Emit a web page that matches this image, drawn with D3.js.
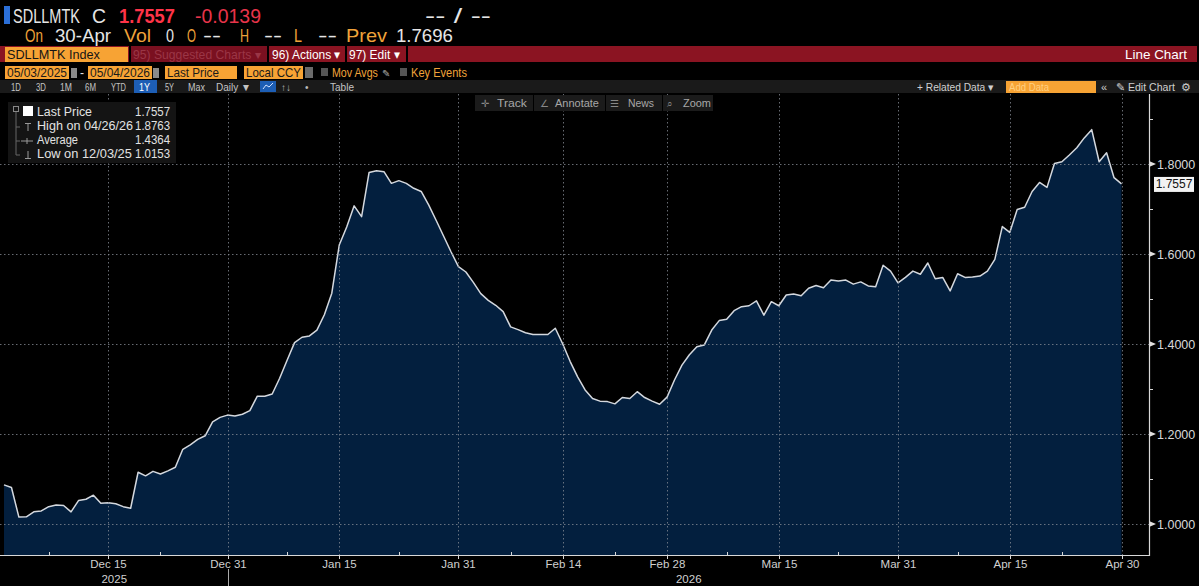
<!DOCTYPE html>
<html><head><meta charset="utf-8">
<script src="https://cdn.jsdelivr.net/npm/d3@7"></script>
<style>html,body{margin:0;padding:0;background:#000;overflow:hidden}</style>
</head><body>
<svg id="c" width="1199" height="586"></svg>
<script>
// ---------------- DATA ----------------
const startDate = "2025-12-01";   // daily observations
const values = [
 1.087,1.081,1.0153,1.016,1.027,1.029,1.0385,1.042,1.041,1.027,
 1.052,1.055,1.064,1.046,1.047,1.045,1.0385,1.035,1.115,1.107,
 1.117,1.111,1.118,1.126,1.166,1.176,1.188,1.196,1.227,1.237,
 1.242,1.240,1.244,1.252,1.284,1.284,1.289,1.324,1.364,1.403,
 1.415,1.418,1.431,1.465,1.513,1.620,1.660,1.707,1.683,1.781,
 1.785,1.783,1.757,1.763,1.757,1.746,1.739,1.709,1.675,1.640,
 1.605,1.572,1.560,1.537,1.512,1.497,1.486,1.472,1.438,1.432,
 1.425,1.421,1.421,1.421,1.435,1.400,1.361,1.327,1.298,1.279,
 1.273,1.272,1.267,1.281,1.279,1.294,1.281,1.273,1.266,1.282,
 1.320,1.353,1.376,1.394,1.398,1.431,1.452,1.455,1.474,1.483,
 1.485,1.496,1.464,1.494,1.485,1.509,1.511,1.507,1.524,1.530,
 1.525,1.542,1.540,1.542,1.533,1.538,1.529,1.527,1.575,1.562,
 1.536,1.548,1.562,1.555,1.580,1.545,1.548,1.518,1.556,1.548,
 1.549,1.551,1.562,1.588,1.661,1.648,1.699,1.704,1.739,1.759,
 1.748,1.801,1.805,1.820,1.836,1.858,1.8763,1.805,1.825,1.7696,
 1.7557
];
const xTickDates = ["2025-12-15","2025-12-31","2026-01-15","2026-01-31","2026-02-14",
                    "2026-02-28","2026-03-15","2026-03-31","2026-04-15","2026-04-30"];
const xMinorDates = ["2025-12-07","2025-12-22","2026-01-08","2026-01-23","2026-02-07",
                     "2026-02-21","2026-03-08","2026-03-23","2026-04-08","2026-04-22"];
const yearLabels = ["2025","2026"];
const yearBreak = "2025-12-31";
const yTicks = [1.0,1.2,1.4,1.6,1.8];
const yMinor = [1.1,1.3,1.5,1.7,1.9];
const legendLabels = ["Last Price","High on 04/26/26","Average","Low on 12/03/25"];
const legendValues = ["1.7557","1.8763","1.4364","1.0153"];
const lastPrice = 1.7557;

// ---------------- HELPERS ----------------
const svg = d3.select("#c");
const FF = "'Liberation Sans', Arial, sans-serif";
// text; if o.w is given the glyphs are horizontally scaled to that width
function T(sel, x, y, s, o = {}) {
  const t = sel.append("text").text(s)
    .attr("font-family", o.ff || FF).attr("font-size", o.fs || 12)
    .attr("fill", o.fill || "#ddd");
  if (o.anchor) t.attr("text-anchor", o.anchor);
  if (o.fw) t.attr("font-weight", o.fw);
  if (o.w) {
    const len = t.node().getComputedTextLength() || o.w;
    t.attr("x", 0).attr("y", 0).attr("transform", `translate(${x},${y}) scale(${o.w / len},1)`);
  } else {
    t.attr("x", x).attr("y", y);
  }
  return t;
}
function R(sel, x, y, w, h, fill) {
  return sel.append("rect").attr("x", x).attr("y", y).attr("width", w).attr("height", h).attr("fill", fill);
}
const ORANGE = "#f0a33a", BOXOR = "#f7a334", WHITE = "#e6e6e6";

svg.append("rect").attr("width", 1199).attr("height", 586).attr("fill", "#000");

// ---------------- HEADER ----------------
const hd = svg.append("g");
R(hd, 4, 6, 6, 18, "#2b6fd8");
T(hd, 13, 23, "SDLLMTK", {fs: 20, w: 67, fill: WHITE});
T(hd, 92, 23, "C", {fs: 20, w: 14, fill: WHITE});
T(hd, 119, 23, "1.7557", {fs: 20, w: 56, fill: "#ff3448", fw: "bold"});
T(hd, 195, 23, "-0.0139", {fs: 20, w: 66, fill: "#e8344a"});
T(hd, 425, 23, "-- / --", {fs: 20, w: 66, fill: WHITE});

const r2 = [["On",25,18,ORANGE],["30-Apr",55,56,WHITE],["Vol",124,27,ORANGE],["0",166,8,WHITE],
  ["O",187,9,ORANGE],["--",203,18,WHITE],["H",240,9,ORANGE],["--",264,18,WHITE],["L",294,8,ORANGE],
  ["--",318,19,WHITE],["Prev",346,41,ORANGE],["1.7696",396,57,WHITE]];
r2.forEach(d => T(hd, d[1], 42, d[0], {fs: 18, w: d[2], fill: d[3]}));

// red bar
R(hd, 0, 46, 1197, 16, "#8b1422");
R(hd, 130, 46, 137, 16, "#7a1020");
R(hd, 5, 47, 123, 15, BOXOR);
T(hd, 7, 59, "SDLLMTK Index", {fs: 13, w: 93, fill: "#151515"});
T(hd, 133, 59, "95) Suggested Charts ▾", {fs: 12, w: 128, fill: "#9a3646"});
T(hd, 272, 59, "96) Actions ▾", {fs: 13, w: 69, fill: "#fff"});
T(hd, 349, 59, "97) Edit ▾", {fs: 13, w: 51, fill: "#fff"});
T(hd, 1187, 59, "Line Chart", {fs: 13, w: 62, fill: "#fff", anchor: "end"});
[129, 267, 345, 406].forEach(x => R(hd, x, 46, 2, 16, "#000"));

// row 4
[[5,64,"05/03/2025",60],[88,64,"05/04/2026",60],[165,72,"Last Price",52],[244,59,"Local CCY",55]].forEach(d => {
  R(hd, d[0], 66, d[1], 13, BOXOR);
  T(hd, d[0] + 2, 77, d[2], {fs: 12, w: d[3], fill: "#1a1a1a"});
});
R(hd, 71, 68, 6, 10, "#8a8a8a"); R(hd, 153, 68, 6, 10, "#8a8a8a");
T(hd, 80, 77, "-", {fs: 12, fill: WHITE});
R(hd, 305, 67, 8, 11, "#6a6a6a");
R(hd, 321, 68, 7, 8, "#555"); T(hd, 332, 77, "Mov Avgs", {fs: 12, w: 46, fill: ORANGE});
T(hd, 382, 77, "✎", {fs: 10, w: 8, fill: "#aaa"});
R(hd, 400, 68, 7, 8, "#555"); T(hd, 411, 77, "Key Events", {fs: 12, w: 56, fill: ORANGE});

// row 5 toolbar
R(hd, 0, 80, 1199, 13, "#1a1a1a");
const tb = [["1D",11,10],["3D",36,10],["1M",60,12],["6M",85,11],["YTD",111,15],["5Y",165,9],
  ["Max",188,17],["Daily ▼",216,35],["Table",330,24]];
tb.forEach(d => T(hd, d[1], 90.5, d[0], {fs: 10.5, w: d[2], fill: "#c4c4c4"}));
R(hd, 134, 80, 23, 13, "#1d5eb5");
T(hd, 139, 90.5, "1Y", {fs: 10.5, w: 11, fill: "#fff"});
R(hd, 260, 81, 16, 11, "#1d5eb5");
hd.append("polyline").attr("points", "263,89 266,85 269,87 273,83").attr("fill", "none").attr("stroke", "#cfe0ff").attr("stroke-width", 1);
T(hd, 281, 90.5, "↑↓", {fs: 10, w: 10, fill: "#bbb"});
T(hd, 305, 90.5, "•", {fs: 10, fill: "#bbb"});
T(hd, 917, 90.5, "+ Related Data ▾", {fs: 10.5, w: 77, fill: "#d0d0d0"});
R(hd, 1006, 81, 90, 12, BOXOR);
T(hd, 1009, 90.5, "Add Data", {fs: 10.5, w: 40, fill: "#ffcf80"});
T(hd, 1101, 90.5, "«", {fs: 11, fill: "#ccc"});
T(hd, 1116, 90.5, "✎ Edit Chart", {fs: 10.5, w: 59, fill: "#d0d0d0"});
T(hd, 1181, 90.5, "⚙", {fs: 11, fill: "#ccc"});

// ---------------- SCALES ----------------
const parse = d3.utcParse("%Y-%m-%d");
const d0 = parse(startDate);
const series = values.map((v, i) => ({date: d3.utcDay.offset(d0, i), value: v}));
const plotTop = 94, plotBottom = 555, axisX = 1149;
const x = d3.scaleUtc().domain([series[0].date, series[series.length - 1].date]).range([4, 1121.5]);
const y = d3.scaleLinear().domain([1.0, 1.8]).range([524, 164]);

const plot = svg.append("g");
plot.append("path").datum(series)
  .attr("d", d3.area().x(d => x(d.date)).y0(plotBottom).y1(d => y(d.value)))
  .attr("fill", "#031f3e");
plot.append("path").datum(series)
  .attr("d", d3.line().x(d => x(d.date)).y(d => y(d.value)))
  .attr("fill", "none").attr("stroke", "#d4d8de").attr("stroke-width", 1.5).attr("stroke-linejoin", "round");

// grid
const grid = svg.append("g").attr("stroke", "#8a8f98").attr("stroke-opacity", 0.75)
  .attr("stroke-width", 1).attr("stroke-dasharray", "1.5,2.5");
yTicks.forEach(v => grid.append("line").attr("x1", 0).attr("x2", axisX).attr("y1", Math.round(y(v)) + 0.5).attr("y2", Math.round(y(v)) + 0.5));
xTickDates.forEach(s => { const px = Math.round(x(parse(s))) + 0.5;
  grid.append("line").attr("x1", px).attr("x2", px).attr("y1", plotTop).attr("y2", plotBottom); });

// x axis
const ax = svg.append("g");
ax.append("line").attr("x1", 0).attr("x2", axisX).attr("y1", plotBottom + 0.5).attr("y2", plotBottom + 0.5)
  .attr("stroke", "#d8d8d8").attr("stroke-width", 1.2);
xTickDates.forEach(s => { const px = Math.round(x(parse(s))) + 0.5;
  ax.append("line").attr("x1", px).attr("x2", px).attr("y1", plotBottom).attr("y2", plotBottom + 4).attr("stroke", "#d8d8d8");
  T(ax, px, 568, d3.utcFormat("%b %-d")(parse(s)), {fs: 11.5, fill: "#d0d0d0", anchor: "middle"}); });
xMinorDates.forEach(s => { const px = Math.round(x(parse(s))) + 0.5;
  ax.append("line").attr("x1", px).attr("x2", px).attr("y1", plotBottom - 3).attr("y2", plotBottom).attr("stroke", "#d8d8d8"); });
const xb = Math.round(x(parse(yearBreak))) + 0.5;
ax.append("line").attr("x1", xb).attr("x2", xb).attr("y1", 569).attr("y2", 586).attr("stroke", "#aaa");
T(ax, (0 + xb) / 2, 583, yearLabels[0], {fs: 11.5, fill: "#d0d0d0", anchor: "middle"});
T(ax, (xb + axisX) / 2, 583, yearLabels[1], {fs: 11.5, fill: "#d0d0d0", anchor: "middle"});

// y axis (right)
ax.append("line").attr("x1", axisX + 0.5).attr("x2", axisX + 0.5).attr("y1", plotTop).attr("y2", plotBottom + 1)
  .attr("stroke", "#d8d8d8").attr("stroke-width", 1.2);
yTicks.forEach(v => { const py = y(v);
  ax.append("path").attr("d", `M${axisX},${py - 3}L${axisX + 7},${py}L${axisX},${py + 3}Z`).attr("fill", "#e0e0e0");
  T(ax, 1157, py + 4.5, d3.format(".4f")(v), {fs: 12.5, fill: "#d8d8d8"}); });
yMinor.forEach(v => { const py = Math.round(y(v)) + 0.5;
  ax.append("line").attr("x1", axisX).attr("x2", axisX + 4).attr("y1", py).attr("y2", py).attr("stroke", "#d8d8d8"); });
const lp = y(lastPrice);
R(ax, 1154, lp - 7, 40, 15, "#f2f2f2");
T(ax, 1174, lp + 4.5, d3.format(".4f")(lastPrice), {fs: 12, fill: "#111", anchor: "middle"});

// ---------------- LEGEND ----------------
const lg = svg.append("g");
R(lg, 8, 102, 168, 61, "#141414");
lg.append("rect").attr("x", 13.5).attr("y", 106.5).attr("width", 5).attr("height", 5).attr("fill", "none").attr("stroke", "#888");
lg.append("line").attr("x1", 16).attr("x2", 16).attr("y1", 112).attr("y2", 155).attr("stroke", "#666");
[127, 141, 155].forEach(yy => lg.append("line").attr("x1", 16).attr("x2", 20).attr("y1", yy).attr("y2", yy).attr("stroke", "#666"));
R(lg, 23, 106, 10, 10, "#fff");
lg.append("path").attr("d", "M25,123.5H31M28,123.5V131").attr("stroke", "#999").attr("fill", "none");
lg.append("path").attr("d", "M21,141H33M27,138V144").attr("stroke", "#999").attr("fill", "none");
lg.append("path").attr("d", "M28,151V158.5M25,158.5H31").attr("stroke", "#999").attr("fill", "none");
const legW = [55, 96, 41, 95];
legendLabels.forEach((s, i) => {
  T(lg, 37, 116 + i * 14, s, {fs: 12.5, w: legW[i], fill: "#e2e2e2"});
  T(lg, 170, 116 + i * 14, legendValues[i], {fs: 12.5, w: 35, fill: "#e2e2e2", anchor: "end"});
});

// ---------------- CHART TOOLBAR ----------------
const ct = svg.append("g");
R(ct, 475, 95, 238, 16, "#1b1b1b");
[533, 605, 662].forEach(xx => R(ct, xx, 95, 1, 16, "#000"));
[["✛",481],["∠",540],["☰",610],["⌕",667]].forEach(d => T(ct, d[1], 107, d[0], {fs: 10, fill: "#888"}));
[["Track",497,30],["Annotate",555,44],["News",628,26],["Zoom",683,28]].forEach(d =>
  T(ct, d[1], 107, d[0], {fs: 11.5, w: d[2], fill: "#a8a8a8"}));
</script>
</body></html>
